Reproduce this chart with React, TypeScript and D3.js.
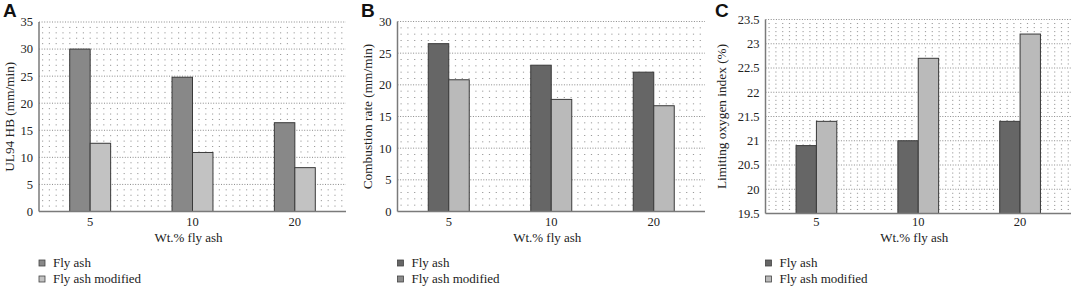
import React from "react";
import * as d3 from "d3";

const categories = ["5", "10", "20"];
const seriesNames = ["Fly ash", "Fly ash modified"];

const ul94FlyAsh = [30, 24.8, 16.4];
const ul94Modified = [12.6, 10.9, 8.1];
const ul94Ticks = [0, 5, 10, 15, 20, 25, 30, 35];

const combFlyAsh = [26.5, 23.1, 22.0];
const combModified = [20.8, 17.7, 16.7];
const combTicks = [0, 5, 10, 15, 20, 25, 30];

const loiFlyAsh = [20.9, 21.0, 21.4];
const loiModified = [21.4, 22.7, 23.2];
const loiTicks = [19.5, 20, 20.5, 21, 21.5, 22, 22.5, 23, 23.5];

const SERIF = "'Liberation Serif', 'DejaVu Serif', serif";

type PanelProps = {
  letter: string;
  left: number;
  right: number;
  top: number;
  bottom: number;
  yTitle: string;
  yTitleX: number;
  a: number[];
  b: number[];
  ticks: number[];
  minorDiv: number;
  colors: string[];
  legendColors: string[];
  letterX: number;
};

function Panel(p: PanelProps) {
  const domain: [number, number] = [p.ticks[0], p.ticks[p.ticks.length - 1]];
  const y = d3.scaleLinear().domain(domain).range([p.bottom, p.top]);
  const x0 = d3.scaleBand().domain(categories).range([p.left, p.right]).padding(0);
  const step = x0.step();
  const x1 = d3.scaleBand().domain(seriesNames).range([0, step * 0.4]).padding(0);
  const minor: number[] = [];
  for (let i = 0; i < p.ticks.length - 1; i++) {
    const d = (p.ticks[i + 1] - p.ticks[i]) / p.minorDiv;
    for (let k = 1; k < p.minorDiv; k++) minor.push(p.ticks[i] + k * d);
  }
  const data = [p.a, p.b];
  const cx = (p.left + p.right) / 2;
  return (
    <g>
      <text x={p.letterX} y={17} fontFamily="'Liberation Sans', Arial, sans-serif" fontWeight="bold" fontSize={19} fill="#111">
        {p.letter}
      </text>
      {minor.map((v, i) => (
        <line key={"m" + i} x1={p.left + 3} x2={p.right} y1={y(v)} y2={y(v)} stroke="#9a9a9a" strokeWidth={1} strokeDasharray="1.2 5.6" />
      ))}
      {p.ticks.slice(1).map((v, i) => (
        <line key={"g" + i} x1={p.left} x2={p.right} y1={y(v)} y2={y(v)} stroke="#8a8a8a" strokeWidth={1} strokeDasharray="1 1.6" />
      ))}
      {categories.map((c, ci) =>
        data.map((arr, si) => {
          const xs = (x0(c) as number) + step * 0.3 + (x1(seriesNames[si]) as number);
          return (
            <rect
              key={c + si}
              x={xs}
              y={y(arr[ci])}
              width={x1.bandwidth()}
              height={y(domain[0]) - y(arr[ci])}
              fill={p.colors[si]}
              stroke="#3a3a3a"
              strokeWidth={1}
            />
          );
        })
      )}
      <line x1={p.left} x2={p.left} y1={p.top} y2={p.bottom} stroke="#7a7a7a" strokeWidth={1.5} />
      <line x1={p.left} x2={p.right} y1={p.bottom} y2={p.bottom} stroke="#7a7a7a" strokeWidth={1.5} />
      {p.ticks.map((v, i) => (
        <text key={"t" + i} x={p.left - 6} y={y(v)} dy="0.35em" textAnchor="end" fontFamily={SERIF} fontSize={12.5} fill="#222">
          {v}
        </text>
      ))}
      {categories.map((c) => (
        <text key={"c" + c} x={(x0(c) as number) + step / 2} y={226} textAnchor="middle" fontFamily={SERIF} fontSize={12.5} fill="#222">
          {c}
        </text>
      ))}
      <text x={cx - 4} y={242} textAnchor="middle" fontFamily={SERIF} fontSize={13} fill="#222">
        Wt.% fly ash
      </text>
      <text
        transform={`translate(${p.yTitleX},${(p.top + p.bottom) / 2}) rotate(-90)`}
        textAnchor="middle"
        fontFamily={SERIF}
        fontSize={13.3}
        fill="#222"
      >
        {p.yTitle}
      </text>
      {seriesNames.map((s, i) => (
        <g key={"l" + s}>
          <rect x={p.left} y={260 + i * 16} width={6} height={6} fill={p.legendColors[i]} stroke="#444" strokeWidth={0.8} />
          <text x={p.left + 14} y={267 + i * 16} fontFamily={SERIF} fontSize={13} fill="#222">
            {s}
          </text>
        </g>
      ))}
    </g>
  );
}

export default function App() {
  return (
    <svg width={1072} height={288} style={{ position: "absolute", left: 0, top: 0, background: "#fff" }}>
      <Panel
        letter="A"
        letterX={3}
        left={39}
        right={346}
        top={22}
        bottom={211.5}
        yTitle="UL94 HB (mm/min)"
        yTitleX={14}
        a={ul94FlyAsh}
        b={ul94Modified}
        ticks={ul94Ticks}
        minorDiv={5}
        colors={["#888888", "#c2c2c2"]}
        legendColors={["#888888", "#c2c2c2"]}
      />
      <Panel
        letter="B"
        letterX={361}
        left={397.5}
        right={705}
        top={21.5}
        bottom={211.5}
        yTitle="Combustion rate (mm/min)"
        yTitleX={372}
        a={combFlyAsh}
        b={combModified}
        ticks={combTicks}
        minorDiv={5}
        colors={["#666666", "#bababa"]}
        legendColors={["#666666", "#8a8a8a"]}
      />
      <Panel
        letter="C"
        letterX={715}
        left={765.5}
        right={1071}
        top={19.5}
        bottom={213.5}
        yTitle="Limiting oxygen index (%)"
        yTitleX={726}
        a={loiFlyAsh}
        b={loiModified}
        ticks={loiTicks}
        minorDiv={6}
        colors={["#666666", "#bababa"]}
        legendColors={["#666666", "#bababa"]}
      />
    </svg>
  );
}
